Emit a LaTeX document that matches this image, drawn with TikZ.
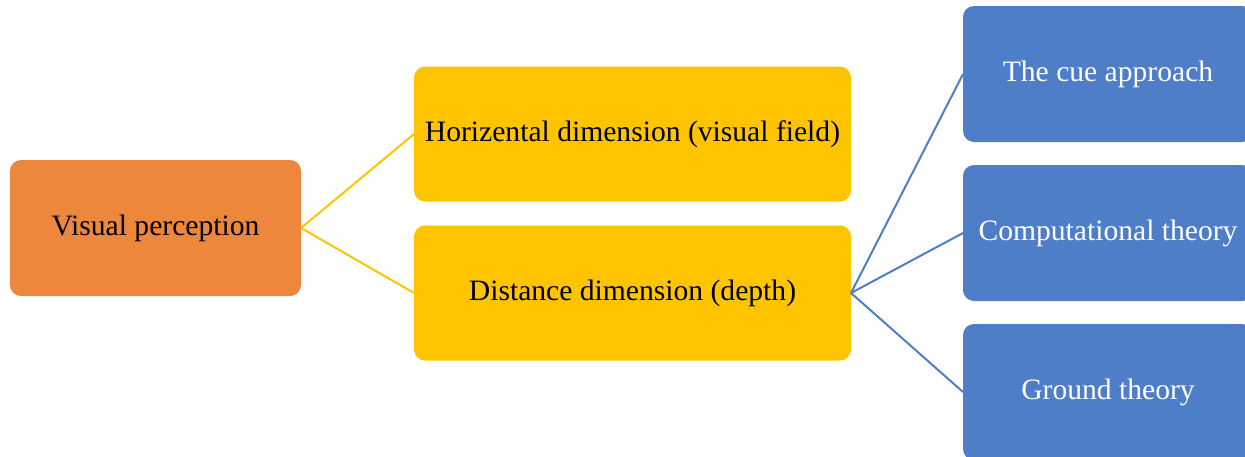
\documentclass[tikz,border=0pt]{standalone}
\usepackage{fontspec}
\setmainfont{Liberation Serif}
\definecolor{corange}{RGB}{237,135,59}
\definecolor{cyellow}{RGB}{255,196,0}
\definecolor{cblue}{RGB}{79,126,201}
\newcommand{\lowtxt}[1]{\raisebox{-3.5pt}{#1}}
\begin{document}
\begin{tikzpicture}[x=1pt,y=-1pt,
  box/.style={rounded corners=11pt,inner sep=0pt,outer sep=0pt,align=center,font=\fontsize{29.6}{34}\selectfont},
  obox/.style={box,fill=corange,text=black,minimum width=291pt,minimum height=136pt},
  ybox/.style={box,fill=cyellow,text=black,minimum width=437pt,minimum height=135pt},
  bbox/.style={box,fill=cblue,text=white,minimum width=290pt,minimum height=136pt},
  ylink/.style={draw=cyellow,line width=2pt},
  blink/.style={draw=cblue,line width=2pt}]
\useasboundingbox (0,0) rectangle (1245,456);
\clip (0,0) rectangle (1245,456);
\node[obox] (vp) at (155.5,228) {\lowtxt{Visual perception}};
\node[ybox] (hd) at (632.5,134) {\lowtxt{Horizental dimension (visual field)}};
\node[ybox] (dd) at (632.5,293) {\lowtxt{Distance dimension (depth)}};
\node[bbox] (cue) at (1108,74) {\lowtxt{The cue approach}};
\node[bbox] (comp) at (1108,233) {\lowtxt{Computational theory}};
\node[bbox] (gr) at (1108,392) {\lowtxt{Ground theory}};
\draw[ylink] (vp.east) -- (hd.west);
\draw[ylink] (vp.east) -- (dd.west);
\draw[blink] (dd.east) -- (cue.west);
\draw[blink] (dd.east) -- (comp.west);
\draw[blink] (dd.east) -- (gr.west);
\end{tikzpicture}
\end{document}
